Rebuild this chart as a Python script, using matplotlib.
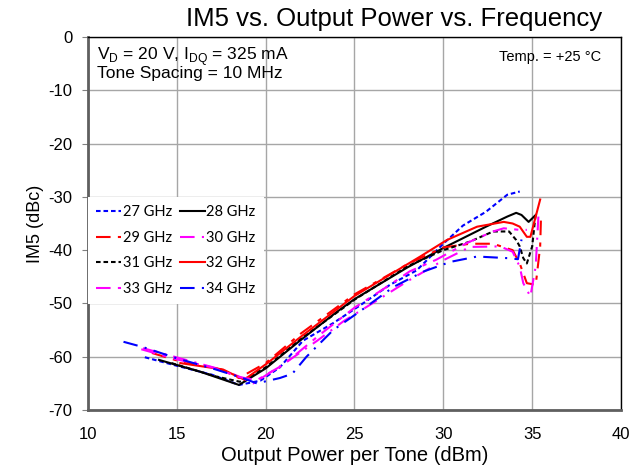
import matplotlib
matplotlib.use("Agg")
import matplotlib.pyplot as plt

plt.rcParams['font.family'] = ['Liberation Sans', 'DejaVu Sans']
plt.rcParams['axes.unicode_minus'] = False
plt.rcParams['mathtext.fontset'] = 'custom'
plt.rcParams['mathtext.rm'] = 'Liberation Sans'

# ---- data ----
x27 = [13.2, 15.0, 17.0, 18.5, 19.7, 20.8, 22.1, 23.8, 25.3, 27.0, 28.5, 30.0, 31.1, 32.4, 33.6, 34.3]
y27 = [-60.1, -61.7, -63.4, -65.3, -64.5, -62.0, -57.0, -53.7, -50.4, -46.5, -43.8, -38.8, -35.4, -32.8, -29.6, -29.0]

x28 = [14.0, 16.3, 18.5, 20.0, 22.0, 24.0, 25.0, 26.0, 28.0, 30.0, 32.4, 33.6, 34.1, 34.4, 34.8, 35.2]
y28 = [-60.6, -62.8, -65.3, -62.2, -56.8, -51.6, -49.2, -47.2, -43.2, -39.6, -35.6, -33.7, -33.0, -33.4, -34.7, -33.4]

x29 = [13.6, 15.0, 17.5, 18.5, 20.0, 22.0, 25.0, 28.0, 30.0, 31.5, 32.8, 33.9, 34.3, 34.7, 35.2, 35.45, 35.5]
y29 = [-59.3, -60.7, -62.4, -64.0, -61.2, -55.6, -48.3, -42.6, -39.5, -38.8, -38.8, -40.0, -42.5, -46.2, -46.5, -39.3, -33.4]

x30 = [13.1, 14.2, 16.5, 17.6, 18.7, 19.3, 21.0, 22.9, 24.4, 26.0, 28.0, 30.0, 31.5, 33.2, 33.9, 34.3, 34.5, 34.9, 35.2, 35.35]
y30 = [-58.4, -59.4, -61.5, -62.5, -64.0, -65.0, -61.4, -57.0, -53.3, -50.0, -45.8, -41.9, -39.4, -39.3, -40.3, -43.1, -46.2, -48.7, -43.0, -33.7]

x31 = [14.7, 17.2, 18.55, 20.0, 22.0, 25.0, 28.0, 30.0, 31.5, 32.8, 33.7, 34.1, 34.3, 34.5, 34.7, 35.0, 35.2]
y31 = [-61.2, -63.7, -64.7, -62.0, -56.6, -49.3, -43.0, -40.0, -38.4, -36.5, -36.5, -38.1, -39.3, -41.5, -42.5, -39.3, -33.1]

x32 = [15.2, 17.6, 18.4, 18.8, 20.1, 22.0, 25.0, 28.7, 30.2, 31.9, 33.4, 33.9, 34.3, 34.7, 34.9, 35.45]
y32 = [-61.2, -62.4, -63.7, -64.3, -61.2, -56.2, -48.6, -41.2, -38.1, -35.6, -34.7, -35.0, -35.6, -37.5, -37.5, -30.5]

x33 = [13.0, 15.0, 17.0, 18.5, 19.5, 21.0, 23.0, 25.0, 27.0, 28.1, 29.6, 31.3, 32.8, 33.4, 34.3, 34.7]
y33 = [-58.6, -60.5, -62.0, -63.8, -64.4, -61.5, -56.0, -50.8, -46.5, -44.0, -41.8, -38.7, -36.5, -35.9, -36.2, -36.2]

x34 = [12.0, 13.1, 15.0, 17.2, 18.7, 19.5, 20.8, 21.5, 22.3, 23.8, 25.3, 27.2, 28.9, 30.4, 31.9, 33.6, 34.2, 34.4]
y34 = [-57.2, -58.2, -60.3, -62.4, -64.0, -65.0, -64.0, -63.2, -60.0, -55.0, -51.5, -46.9, -44.0, -42.2, -41.2, -41.5, -41.7, -38.0]

labels = ['27 GHz', '28 GHz', '29 GHz', '30 GHz', '31 GHz', '32 GHz', '33 GHz', '34 GHz']
xticks = [10, 15, 20, 25, 30, 35, 40]
yticks = [0, -10, -20, -30, -40, -50, -60, -70]

series = [(x27, y27), (x28, y28), (x29, y29), (x30, y30),
          (x31, y31), (x32, y32), (x33, y33), (x34, y34)]
colors = ['#0000ff', '#000000', '#ff0000', '#ff00ff', '#000000', '#ff0000', '#ff00ff', '#0000ff']
styles = [(0, (2.2, 1.4)), '-', (0, (7, 3.5, 2, 3.5)), (0, (7, 3.5, 1, 3.5)),
          (0, (2.2, 1.4)), '-', (0, (7, 3.5, 2, 3.5)), (0, (7, 3.5, 1, 3.5))]

fig = plt.figure(figsize=(6.44, 4.73), dpi=100)
ax = fig.add_axes([0.1366, 0.1332, 0.8277, 0.7886])

handles = []
for (xs, ys), c, ls, lab in zip(series, colors, styles, labels):
    h, = ax.plot(xs, ys, color=c, linestyle=ls, linewidth=1.5, label=lab, zorder=3)
    handles.append(h)

ax.set_xlim(10, 40)
ax.set_ylim(-70, 0)
ax.set_xticks(xticks)
ax.set_yticks(yticks)
ax.set_xticklabels([str(v) for v in xticks], fontsize=12)
ax.set_yticklabels([str(v) for v in yticks], fontsize=12)
ax.tick_params(axis='x', length=0, pad=12)
ax.tick_params(axis='y', length=4, direction='out', color='#808080', pad=7)
ax.grid(True, color='#a6a6a6', linewidth=1.0, zorder=0)
ax.set_axisbelow(True)

for side in ['left', 'bottom']:
    ax.spines[side].set_color('#5f5f5f')
    ax.spines[side].set_linewidth(2.0)
for side in ['top', 'right']:
    ax.spines[side].set_color('#000000')
    ax.spines[side].set_linewidth(1.0)

ax.set_xlabel('Output Power per Tone (dBm)', fontsize=14.5, labelpad=3)
ax.set_ylabel('IM5 (dBc)', fontsize=13, labelpad=3)
fig.text(394 / 644, 1 - 19 / 473, 'IM5 vs. Output Power vs. Frequency',
         fontsize=18.5, ha='center', va='center')

ax.text(0.017, 0.978, 'V$_\\mathregular{D}$ = 20 V, I$_\\mathregular{DQ}$ = 325 mA\nTone Spacing = 10 MHz',
        transform=ax.transAxes, fontsize=12.5, va='top', ha='left', linespacing=0.82)
ax.text(0.962, 0.965, 'Temp. = +25 \u00b0C', transform=ax.transAxes, fontsize=10.5,
        va='top', ha='right')

order = [0, 2, 4, 6, 1, 3, 5, 7]
leg = ax.legend([handles[i] for i in order], [labels[i] for i in order],
                ncol=2, loc='upper left', bbox_to_anchor=(0.0, 0.571),
                borderaxespad=0, frameon=True, fancybox=False,
                prop={'family': 'Lato', 'size': 10.5},
                handlelength=1.7, handletextpad=0.12, columnspacing=0.55,
                labelspacing=0.8, borderpad=0.55)
leg.get_frame().set_edgecolor('none')
leg.get_frame().set_facecolor('white')
leg.get_frame().set_alpha(1.0)
leg.set_zorder(5)

fig.savefig('out.png', dpi=100)
